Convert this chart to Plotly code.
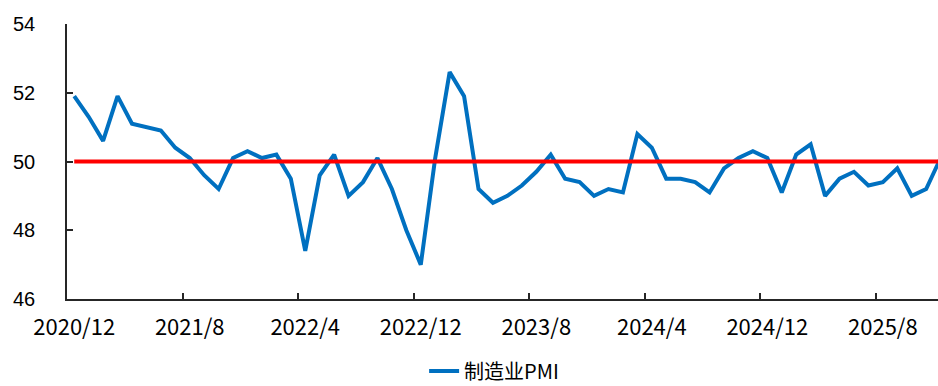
import plotly.graph_objects as go

# Month labels, 2020/12 .. 2025/12
months = []
y, m = 2020, 12
for _ in range(61):
    months.append(f"{y}/{m}")
    m += 1
    if m > 12:
        m = 1
        y += 1

# 制造业PMI (monthly)
pmi = [
    51.9,
    51.3, 50.6, 51.9, 51.1, 51.0, 50.9, 50.4, 50.1, 49.6, 49.2, 50.1, 50.3,
    50.1, 50.2, 49.5, 47.4, 49.6, 50.2, 49.0, 49.4, 50.1, 49.2, 48.0, 47.0,
    50.1, 52.6, 51.9, 49.2, 48.8, 49.0, 49.3, 49.7, 50.2, 49.5, 49.4, 49.0,
    49.2, 49.1, 50.8, 50.4, 49.5, 49.5, 49.4, 49.1, 49.8, 50.1, 50.3, 50.1,
    49.1, 50.2, 50.5, 49.0, 49.5, 49.7, 49.3, 49.4, 49.8, 49.0, 49.2, 50.1,
]
threshold = [50.0] * len(months)

axis_color = "#262626"

fig = go.Figure()
fig.add_trace(go.Scatter(
    x=months, y=pmi, mode="lines", name="制造业PMI",
    line=dict(color="#0070C0", width=4),
))
fig.add_trace(go.Scatter(
    x=months, y=threshold, mode="lines", name="荣枯线", showlegend=False,
    line=dict(color="#FF0000", width=4),
))

fig.update_layout(
    width=938, height=386,
    margin=dict(l=67, r=0, t=24, b=87, autoexpand=False),
    paper_bgcolor="white", plot_bgcolor="white",
    showlegend=True,
    legend=dict(
        orientation="h", x=0.41, xanchor="left", y=-0.262, yanchor="middle",
        font=dict(family="Noto Sans CJK SC", size=20, color="#000000"),
        bgcolor="rgba(0,0,0,0)", tracegroupgap=0,
    ),
)
fig.update_xaxes(
    type="category", range=[-0.5, 59.82],
    tickmode="linear", tick0=0, dtick=8, tickson="boundaries",
    tickangle=0, automargin=False,
    ticks="inside", ticklen=6, tickcolor=axis_color, tickwidth=1.5,
    showline=True, linecolor=axis_color, linewidth=1.5,
    showgrid=False, zeroline=False,
    tickfont=dict(family="Noto Sans CJK SC", size=22, color="#000000"),
    ticklabelstandoff=8,
)
fig.update_yaxes(
    range=[46, 54], dtick=2, automargin=False,
    ticks="inside", ticklen=6, tickcolor=axis_color, tickwidth=1.5,
    showline=True, linecolor=axis_color, linewidth=1.5,
    showgrid=False, zeroline=False,
    tickfont=dict(family="Liberation Sans", size=20, color="#000000"),
    ticklabelstandoff=26,
)

fig.write_html("out.html")
